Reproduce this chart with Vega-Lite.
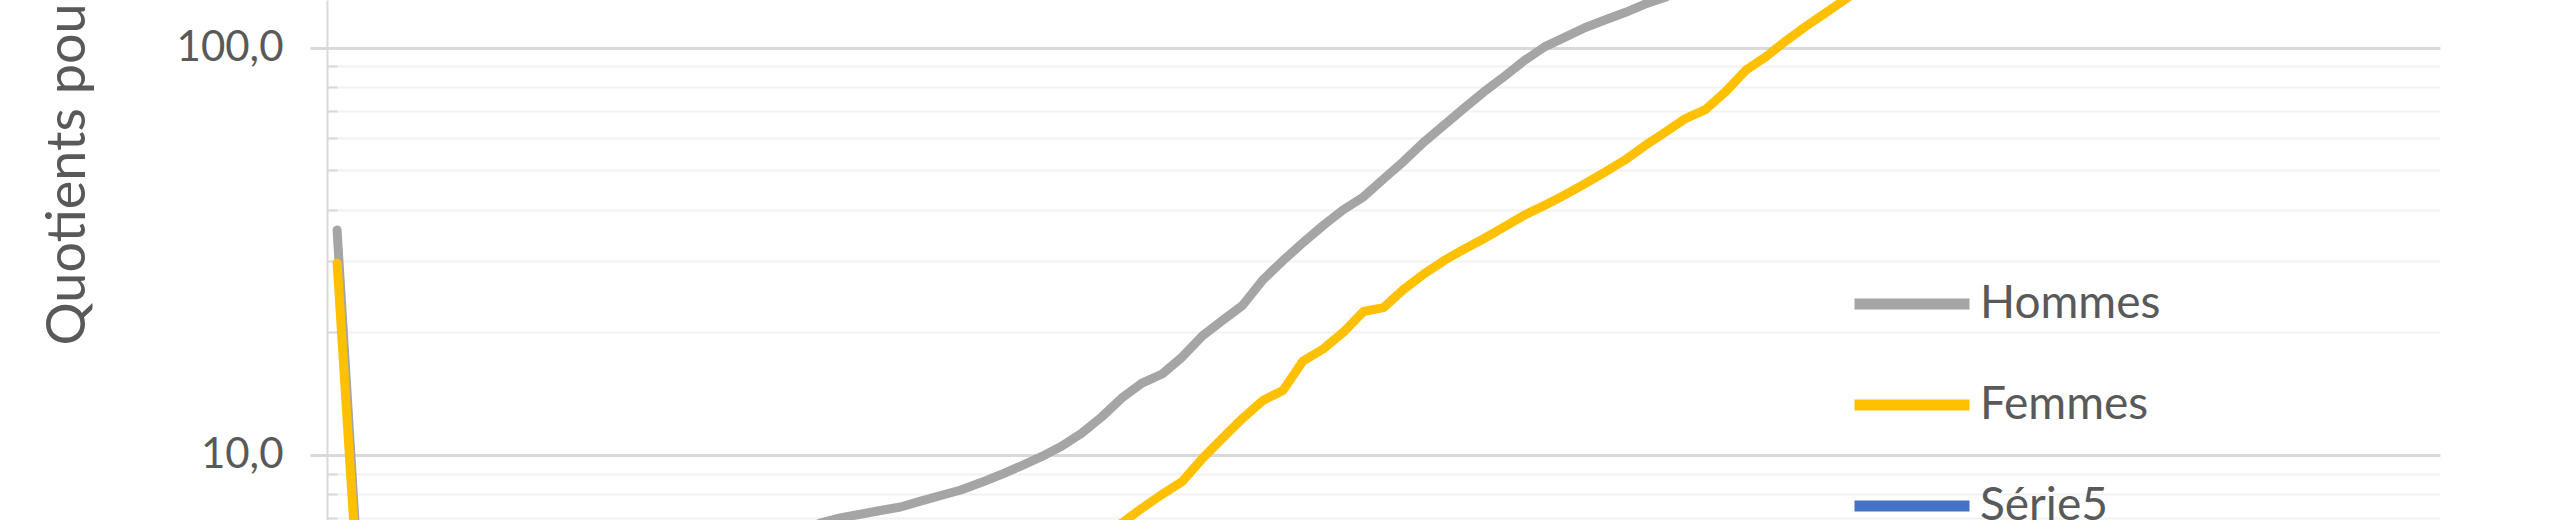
{
  "$schema": "https://vega.github.io/schema/vega-lite/v6.json",
  "description": "Quotients de mortalité par âge, Hommes et Femmes (échelle log, vue recadrée)",
  "width": 2113,
  "height": 520,
  "autosize": {"type": "none"},
  "padding": {"left": 327, "top": 0, "right": 120, "bottom": 0},
  "background": "white",
  "config": {"view": {"stroke": null}, "font": "Lato"},
  "data": {
    "values": [
      {"age": 0, "sexe": "Hommes", "q": 35.7}, {"age": 1, "sexe": "Hommes", "q": 5.6}, {"age": 2, "sexe": "Hommes", "q": 3.0},
      {"age": 3, "sexe": "Hommes", "q": 2.1}, {"age": 4, "sexe": "Hommes", "q": 1.7}, {"age": 5, "sexe": "Hommes", "q": 1.5},
      {"age": 6, "sexe": "Hommes", "q": 1.4}, {"age": 7, "sexe": "Hommes", "q": 1.3}, {"age": 8, "sexe": "Hommes", "q": 1.3},
      {"age": 9, "sexe": "Hommes", "q": 1.3}, {"age": 10, "sexe": "Hommes", "q": 1.4}, {"age": 11, "sexe": "Hommes", "q": 1.5},
      {"age": 12, "sexe": "Hommes", "q": 1.7}, {"age": 13, "sexe": "Hommes", "q": 2.0}, {"age": 14, "sexe": "Hommes", "q": 2.4},
      {"age": 15, "sexe": "Hommes", "q": 2.9}, {"age": 16, "sexe": "Hommes", "q": 3.4}, {"age": 17, "sexe": "Hommes", "q": 3.9},
      {"age": 18, "sexe": "Hommes", "q": 4.4}, {"age": 19, "sexe": "Hommes", "q": 4.9}, {"age": 20, "sexe": "Hommes", "q": 5.3},
      {"age": 21, "sexe": "Hommes", "q": 5.7}, {"age": 22, "sexe": "Hommes", "q": 6.1}, {"age": 23, "sexe": "Hommes", "q": 6.4},
      {"age": 24, "sexe": "Hommes", "q": 6.8}, {"age": 25, "sexe": "Hommes", "q": 7.0}, {"age": 26, "sexe": "Hommes", "q": 7.15},
      {"age": 27, "sexe": "Hommes", "q": 7.3}, {"age": 28, "sexe": "Hommes", "q": 7.45}, {"age": 29, "sexe": "Hommes", "q": 7.7},
      {"age": 30, "sexe": "Hommes", "q": 7.95}, {"age": 31, "sexe": "Hommes", "q": 8.2}, {"age": 32, "sexe": "Hommes", "q": 8.55},
      {"age": 33, "sexe": "Hommes", "q": 8.95}, {"age": 34, "sexe": "Hommes", "q": 9.4}, {"age": 35, "sexe": "Hommes", "q": 9.9},
      {"age": 36, "sexe": "Hommes", "q": 10.5}, {"age": 37, "sexe": "Hommes", "q": 11.3}, {"age": 38, "sexe": "Hommes", "q": 12.4},
      {"age": 39, "sexe": "Hommes", "q": 13.8}, {"age": 40, "sexe": "Hommes", "q": 15.0}, {"age": 41, "sexe": "Hommes", "q": 15.8},
      {"age": 42, "sexe": "Hommes", "q": 17.4}, {"age": 43, "sexe": "Hommes", "q": 19.6}, {"age": 44, "sexe": "Hommes", "q": 21.4},
      {"age": 45, "sexe": "Hommes", "q": 23.3}, {"age": 46, "sexe": "Hommes", "q": 26.9}, {"age": 47, "sexe": "Hommes", "q": 30.0},
      {"age": 48, "sexe": "Hommes", "q": 33.2}, {"age": 49, "sexe": "Hommes", "q": 36.6}, {"age": 50, "sexe": "Hommes", "q": 40.0},
      {"age": 51, "sexe": "Hommes", "q": 43.0}, {"age": 52, "sexe": "Hommes", "q": 47.6}, {"age": 53, "sexe": "Hommes", "q": 52.6},
      {"age": 54, "sexe": "Hommes", "q": 58.6}, {"age": 55, "sexe": "Hommes", "q": 64.5}, {"age": 56, "sexe": "Hommes", "q": 71.0},
      {"age": 57, "sexe": "Hommes", "q": 78.0}, {"age": 58, "sexe": "Hommes", "q": 85.0}, {"age": 59, "sexe": "Hommes", "q": 93.0},
      {"age": 60, "sexe": "Hommes", "q": 100.5}, {"age": 61, "sexe": "Hommes", "q": 106}, {"age": 62, "sexe": "Hommes", "q": 112},
      {"age": 63, "sexe": "Hommes", "q": 117}, {"age": 64, "sexe": "Hommes", "q": 122}, {"age": 65, "sexe": "Hommes", "q": 128},
      {"age": 66, "sexe": "Hommes", "q": 133}, {"age": 67, "sexe": "Hommes", "q": 142}, {"age": 68, "sexe": "Hommes", "q": 152},
      {"age": 70, "sexe": "Hommes", "q": 175}, {"age": 75, "sexe": "Hommes", "q": 250}, {"age": 80, "sexe": "Hommes", "q": 350},
      {"age": 90, "sexe": "Hommes", "q": 595}, {"age": 100, "sexe": "Hommes", "q": 820},

      {"age": 0, "sexe": "Femmes", "q": 29.6}, {"age": 1, "sexe": "Femmes", "q": 5.0}, {"age": 2, "sexe": "Femmes", "q": 2.5},
      {"age": 3, "sexe": "Femmes", "q": 1.8}, {"age": 4, "sexe": "Femmes", "q": 1.4}, {"age": 5, "sexe": "Femmes", "q": 1.2},
      {"age": 6, "sexe": "Femmes", "q": 1.1}, {"age": 7, "sexe": "Femmes", "q": 1.0}, {"age": 8, "sexe": "Femmes", "q": 1.0},
      {"age": 9, "sexe": "Femmes", "q": 1.0}, {"age": 10, "sexe": "Femmes", "q": 1.0}, {"age": 11, "sexe": "Femmes", "q": 1.1},
      {"age": 12, "sexe": "Femmes", "q": 1.2}, {"age": 13, "sexe": "Femmes", "q": 1.4}, {"age": 14, "sexe": "Femmes", "q": 1.6},
      {"age": 15, "sexe": "Femmes", "q": 1.9}, {"age": 16, "sexe": "Femmes", "q": 2.2}, {"age": 17, "sexe": "Femmes", "q": 2.5},
      {"age": 18, "sexe": "Femmes", "q": 2.8}, {"age": 19, "sexe": "Femmes", "q": 3.0}, {"age": 20, "sexe": "Femmes", "q": 3.2},
      {"age": 21, "sexe": "Femmes", "q": 3.3}, {"age": 22, "sexe": "Femmes", "q": 3.4}, {"age": 23, "sexe": "Femmes", "q": 3.5},
      {"age": 24, "sexe": "Femmes", "q": 3.6}, {"age": 25, "sexe": "Femmes", "q": 3.7}, {"age": 26, "sexe": "Femmes", "q": 3.8},
      {"age": 27, "sexe": "Femmes", "q": 3.9}, {"age": 28, "sexe": "Femmes", "q": 4.0}, {"age": 29, "sexe": "Femmes", "q": 4.1},
      {"age": 30, "sexe": "Femmes", "q": 4.2}, {"age": 31, "sexe": "Femmes", "q": 4.4}, {"age": 32, "sexe": "Femmes", "q": 4.6},
      {"age": 33, "sexe": "Femmes", "q": 4.8}, {"age": 34, "sexe": "Femmes", "q": 5.0}, {"age": 35, "sexe": "Femmes", "q": 5.3},
      {"age": 36, "sexe": "Femmes", "q": 5.6}, {"age": 37, "sexe": "Femmes", "q": 6.0}, {"age": 38, "sexe": "Femmes", "q": 6.4},
      {"age": 39, "sexe": "Femmes", "q": 6.8}, {"age": 40, "sexe": "Femmes", "q": 7.4}, {"age": 41, "sexe": "Femmes", "q": 8.0},
      {"age": 42, "sexe": "Femmes", "q": 8.6}, {"age": 43, "sexe": "Femmes", "q": 9.8}, {"age": 44, "sexe": "Femmes", "q": 11.0},
      {"age": 45, "sexe": "Femmes", "q": 12.3}, {"age": 46, "sexe": "Femmes", "q": 13.6}, {"age": 47, "sexe": "Femmes", "q": 14.4},
      {"age": 48, "sexe": "Femmes", "q": 17.0}, {"age": 49, "sexe": "Femmes", "q": 18.2}, {"age": 50, "sexe": "Femmes", "q": 20.0},
      {"age": 51, "sexe": "Femmes", "q": 22.5}, {"age": 52, "sexe": "Femmes", "q": 23.0}, {"age": 53, "sexe": "Femmes", "q": 25.5},
      {"age": 54, "sexe": "Femmes", "q": 27.8}, {"age": 55, "sexe": "Femmes", "q": 30.0}, {"age": 56, "sexe": "Femmes", "q": 32.0},
      {"age": 57, "sexe": "Femmes", "q": 34.0}, {"age": 58, "sexe": "Femmes", "q": 36.3}, {"age": 59, "sexe": "Femmes", "q": 38.8},
      {"age": 60, "sexe": "Femmes", "q": 41.0}, {"age": 61, "sexe": "Femmes", "q": 43.5}, {"age": 62, "sexe": "Femmes", "q": 46.3},
      {"age": 63, "sexe": "Femmes", "q": 49.5}, {"age": 64, "sexe": "Femmes", "q": 53.0}, {"age": 65, "sexe": "Femmes", "q": 57.5},
      {"age": 66, "sexe": "Femmes", "q": 62.0}, {"age": 67, "sexe": "Femmes", "q": 67.0}, {"age": 68, "sexe": "Femmes", "q": 70.5},
      {"age": 69, "sexe": "Femmes", "q": 78.0}, {"age": 70, "sexe": "Femmes", "q": 88.0}, {"age": 71, "sexe": "Femmes", "q": 95.0},
      {"age": 72, "sexe": "Femmes", "q": 104}, {"age": 73, "sexe": "Femmes", "q": 113}, {"age": 74, "sexe": "Femmes", "q": 122},
      {"age": 75, "sexe": "Femmes", "q": 132}, {"age": 76, "sexe": "Femmes", "q": 145}, {"age": 78, "sexe": "Femmes", "q": 172},
      {"age": 80, "sexe": "Femmes", "q": 205}, {"age": 90, "sexe": "Femmes", "q": 480}, {"age": 100, "sexe": "Femmes", "q": 780}
    ]
  },
  "layer": [
    {
      "mark": {"type": "line", "opacity": 0, "clip": true},
      "encoding": {
        "x": {"field": "age", "type": "quantitative", "scale": {"domain": [-0.5, 104.5], "nice": false, "zero": false}, "axis": null},
        "y": {
          "field": "q",
          "type": "quantitative",
          "scale": {"type": "log", "domain": [6.92, 131], "nice": false},
          "axis": {
            "orient": "left",
            "values": [7, 8, 9, 20, 30, 40, 50, 60, 70, 80, 90],
            "labels": false,
            "domain": false,
            "ticks": true,
            "tickSize": -10,
            "tickColor": "#d9d9d9",
            "tickWidth": 2,
            "grid": true,
            "gridColor": "#f2f2f2",
            "gridWidth": 2,
            "title": null
          }
        },
        "detail": {"field": "sexe"}
      }
    },
    {
      "mark": {"type": "line", "clip": true, "strokeWidth": 9, "strokeJoin": "round", "strokeCap": "round"},
      "encoding": {
        "x": {
          "field": "age",
          "type": "quantitative",
          "scale": {"domain": [-0.5, 104.5], "nice": false, "zero": false},
          "axis": {
            "values": [-0.5, 19.5, 39.5, 59.5, 79.5, 99.5],
            "labels": false,
            "ticks": false,
            "domain": false,
            "title": null,
            "grid": true,
            "gridColor": "#d9d9d9",
            "gridWidth": 2
          }
        },
        "y": {
          "field": "q",
          "type": "quantitative",
          "scale": {"type": "log", "domain": [6.92, 131], "nice": false},
          "axis": {
            "orient": "left",
            "values": [10, 100],
            "labelExpr": "replace(format(datum.value, '.1f'), '.', ',')",
            "labelFont": "Lato",
            "labelFontSize": 42,
            "labelColor": "#595959",
            "labelPadding": 27,
            "labelOverlap": false,
            "labelFlush": false,
            "tickSize": 17,
            "tickColor": "#d9d9d9",
            "tickWidth": 3,
            "grid": true,
            "gridColor": "#d9d9d9",
            "gridWidth": 3,
            "domain": true,
            "domainColor": "#d9d9d9",
            "domainWidth": 2,
            "title": "Quotients pour 1000",
            "titleFont": "Lato",
            "titleFontSize": 54,
            "titleFontWeight": "normal",
            "titleColor": "#595959",
            "titleAngle": -90,
            "titleAlign": "left",
            "titleBaseline": "alphabetic",
            "titleX": -243,
            "titleY": 345
          }
        },
        "color": {
          "field": "sexe",
          "type": "nominal",
          "scale": {"domain": ["Hommes", "Femmes", "Série5"], "range": ["#A5A5A5", "#FFC000", "#4472C4"]},
          "legend": {
            "orient": "none",
            "legendX": 1522,
            "legendY": 241,
            "title": null,
            "direction": "vertical",
            "symbolType": "stroke",
            "symbolSize": 13225,
            "symbolStrokeWidth": 11,
            "labelFont": "Lato",
            "labelFontSize": 46,
            "labelColor": "#595959",
            "labelOffset": 5,
            "labelLimit": 0,
            "rowPadding": 15,
            "padding": 0
          }
        }
      }
    }
  ],
  "resolve": {"axis": {"y": "independent"}}
}
